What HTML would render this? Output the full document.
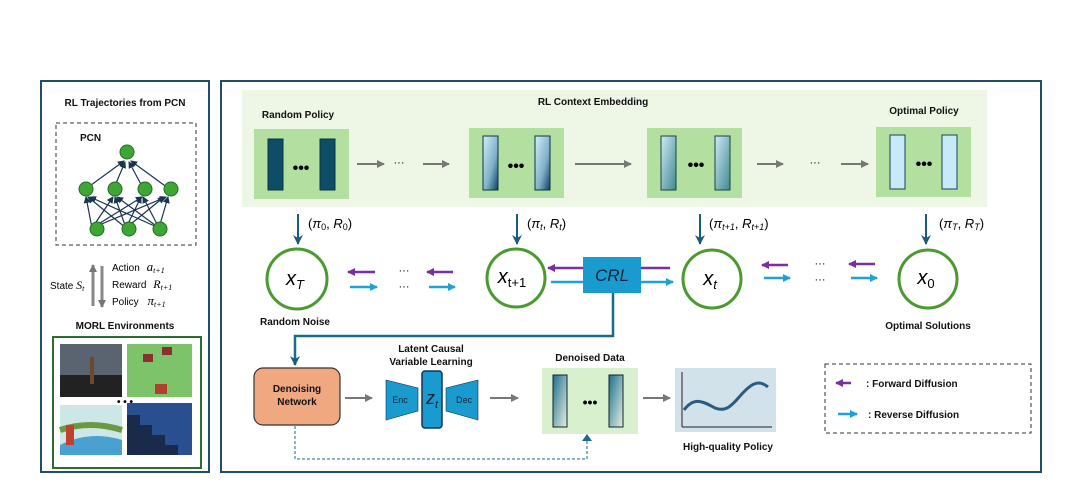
<!DOCTYPE html>
<html><head><meta charset="utf-8"><style>
html,body{margin:0;padding:0;background:#fff}
svg{display:block}
text{font-family:"Liberation Sans",sans-serif}
.b{font-weight:bold;font-size:10px;fill:#111}
.m{font-family:"Liberation Serif",serif;font-style:italic}
</style></head><body>
<svg width="1072" height="489" viewBox="0 0 1072 489" xmlns="http://www.w3.org/2000/svg">
<defs>
<marker id="ag" markerWidth="8" markerHeight="8" refX="7" refY="4" orient="auto" markerUnits="userSpaceOnUse"><path d="M0,0 L8,4 L0,8z" fill="#777"/></marker>
<marker id="ad" markerWidth="10" markerHeight="10" refX="9" refY="5" orient="auto" markerUnits="userSpaceOnUse"><path d="M0,0 L10,5 L0,10 L3,5z" fill="#1b5c7c"/></marker>
<marker id="ap" markerWidth="8" markerHeight="8" refX="7" refY="4" orient="auto" markerUnits="userSpaceOnUse"><path d="M0,0 L8,4 L0,8z" fill="#7a2fa0"/></marker>
<marker id="ab" markerWidth="8" markerHeight="8" refX="7" refY="4" orient="auto" markerUnits="userSpaceOnUse"><path d="M0,0 L8,4 L0,8z" fill="#1fa0d8"/></marker>
<marker id="an" markerWidth="7" markerHeight="7" refX="6" refY="3.5" orient="auto" markerUnits="userSpaceOnUse"><path d="M0,0 L7,3.5 L0,7z" fill="#1b3550"/></marker>
<linearGradient id="g1" x1="0" y1="0" x2="1" y2="1"><stop offset="0" stop-color="#d4eef8"/><stop offset="0.6" stop-color="#7fb0c8"/><stop offset="1" stop-color="#0d3f60"/></linearGradient>
<linearGradient id="g2" x1="0" y1="0" x2="1" y2="1"><stop offset="0" stop-color="#cfeaf4"/><stop offset="1" stop-color="#3f8a90"/></linearGradient>
<linearGradient id="g3" x1="0" y1="0" x2="1" y2="1"><stop offset="0" stop-color="#1d6f90"/><stop offset="1" stop-color="#e8f0e0"/></linearGradient>
</defs>

<!-- left panel -->
<rect x="41" y="81" width="168" height="391" fill="#fff" stroke="#1f4e6b" stroke-width="2"/>
<text x="125" y="106" class="b" text-anchor="middle">RL Trajectories from PCN</text>
<rect x="56" y="123" width="140" height="122" fill="none" stroke="#333" stroke-dasharray="4,3"/>
<text x="80" y="141" class="b">PCN</text>
<g stroke="#1b3550" stroke-width="1.2" marker-end="url(#an)">
<line x1="87" y1="188" x2="124" y2="161"/><line x1="114" y1="188" x2="125" y2="162"/><line x1="143" y1="188" x2="129" y2="162"/><line x1="168" y1="188" x2="131" y2="161"/>
<line x1="92" y1="228" x2="86" y2="197"/><line x1="92" y1="228" x2="113" y2="197"/><line x1="92" y1="228" x2="142" y2="197"/><line x1="92" y1="228" x2="166" y2="197"/>
<line x1="126" y1="228" x2="88" y2="197"/><line x1="126" y1="228" x2="115" y2="197"/><line x1="126" y1="228" x2="141" y2="197"/><line x1="126" y1="228" x2="164" y2="197"/>
<line x1="159" y1="228" x2="90" y2="197"/><line x1="159" y1="228" x2="117" y2="197"/><line x1="159" y1="228" x2="143" y2="197"/><line x1="159" y1="228" x2="168" y2="197"/>
</g>
<g fill="#3fa535" stroke="#1f6e20" stroke-width="1">
<circle cx="127" cy="152" r="7"/>
<circle cx="86" cy="189" r="7"/><circle cx="115" cy="189" r="7"/><circle cx="145" cy="189" r="7"/><circle cx="171" cy="189" r="7"/>
<circle cx="97" cy="229" r="7"/><circle cx="129" cy="229" r="7"/><circle cx="160" cy="229" r="7"/>
</g>
<line x1="93" y1="306" x2="93" y2="265" stroke="#888" stroke-width="3" marker-end="url(#ag)"/>
<line x1="102" y1="266" x2="102" y2="307" stroke="#888" stroke-width="3" marker-end="url(#ag)"/>
<text x="50" y="289" font-size="10">State <tspan class="m" font-size="12">S<tspan font-size="8" dy="2">t</tspan></tspan></text>
<text x="112" y="271" font-size="10">Action <tspan class="m" font-size="13" dx="4">a<tspan font-size="8" dy="2">t+1</tspan></tspan></text>
<text x="112" y="288" font-size="10">Reward <tspan class="m" font-size="12" dx="4">R<tspan font-size="8" dy="2">t+1</tspan></tspan></text>
<text x="112" y="305" font-size="10">Policy <tspan class="m" font-size="13" dx="6">π<tspan font-size="8" dy="2">t+1</tspan></tspan></text>
<text x="125" y="329" class="b" text-anchor="middle">MORL Environments</text>
<rect x="53" y="337" width="148" height="131" fill="#fff" stroke="#2e6b2e" stroke-width="2"/>
<rect x="60" y="344" width="62" height="53" fill="#5a6470"/><rect x="60" y="375" width="62" height="22" fill="#222"/><rect x="90" y="357" width="4" height="27" fill="#6b4a2e"/>
<rect x="127" y="344" width="65" height="53" fill="#7cc36a"/>
<rect x="143" y="354" width="10" height="8" fill="#8a3030"/><rect x="162" y="347" width="10" height="8" fill="#8a3030"/><rect x="155" y="384" width="12" height="10" fill="#b04030"/>
<text x="125" y="405" font-size="10" text-anchor="middle" font-weight="bold">• • •</text>
<rect x="60" y="405" width="62" height="50" fill="#cde6e6"/><path d="M60,445 Q90,430 122,440 L122,455 L60,455z" fill="#4aa0d0"/><path d="M60,430 Q90,420 122,430" stroke="#6a9a40" stroke-width="6" fill="none"/><rect x="66" y="425" width="8" height="20" fill="#c04030"/>
<rect x="127" y="403" width="65" height="52" fill="#2a4f90"/><path d="M127,415 L140,415 L140,425 L152,425 L152,435 L165,435 L165,445 L178,445 L178,455 L127,455z" fill="#1a2a4a"/>

<!-- main panel -->
<rect x="221" y="81" width="820" height="391" fill="#fff" stroke="#1f4e6b" stroke-width="2"/>
<rect x="242" y="90" width="745" height="117" fill="#eef6e6"/>
<text x="593" y="105" class="b" text-anchor="middle">RL Context Embedding</text>
<text x="298" y="118" class="b" text-anchor="middle">Random Policy</text>
<text x="924" y="114" class="b" text-anchor="middle">Optimal Policy</text>

<rect x="254" y="129" width="95" height="70" fill="#b3e0a0"/>
<rect x="268" y="139" width="15" height="51" fill="#0d4d66" stroke="#0a3346"/><rect x="320" y="139" width="15" height="51" fill="#0d4d66" stroke="#0a3346"/>
<text x="301" y="173" font-size="16" font-weight="bold" text-anchor="middle">•••</text>

<rect x="469" y="128" width="95" height="70" fill="#b3e0a0"/>
<rect x="483" y="136" width="15" height="54" fill="url(#g1)" stroke="#0a3346"/><rect x="535" y="136" width="15" height="54" fill="url(#g1)" stroke="#0a3346"/>
<text x="516" y="171" font-size="16" font-weight="bold" text-anchor="middle">•••</text>

<rect x="647" y="128" width="95" height="70" fill="#b3e0a0"/>
<rect x="661" y="136" width="15" height="54" fill="url(#g2)" stroke="#1a4050"/><rect x="715" y="136" width="15" height="54" fill="url(#g2)" stroke="#1a4050"/>
<text x="696" y="170" font-size="16" font-weight="bold" text-anchor="middle">•••</text>

<rect x="876" y="127" width="95" height="70" fill="#b3e0a0"/>
<rect x="890" y="135" width="15" height="54" fill="#c8eaf8" stroke="#1a4050"/><rect x="942" y="135" width="15" height="54" fill="#c8eaf8" stroke="#1a4050"/>
<text x="924" y="169" font-size="16" font-weight="bold" text-anchor="middle">•••</text>

<g stroke="#777" stroke-width="2" marker-end="url(#ag)">
<line x1="357" y1="164" x2="384" y2="164"/><line x1="423" y1="164" x2="449" y2="164"/>
<line x1="575" y1="164" x2="631" y2="164"/>
<line x1="757" y1="164" x2="783" y2="164"/><line x1="841" y1="164" x2="868" y2="164"/>
</g>
<text x="399" y="166" font-size="11" text-anchor="middle">···</text>
<text x="815" y="166" font-size="11" text-anchor="middle">···</text>

<g stroke="#1b5c7c" stroke-width="2" marker-end="url(#ad)">
<line x1="298" y1="214" x2="298" y2="244"/><line x1="517" y1="214" x2="517" y2="244"/>
<line x1="700" y1="214" x2="700" y2="244"/><line x1="926" y1="214" x2="926" y2="244"/>
</g>
<g font-family="Liberation Serif,serif" font-size="13">
<text x="308" y="228">(<tspan font-style="italic">π</tspan><tspan font-size="9" dy="2">0</tspan><tspan dy="-2">, </tspan><tspan font-style="italic">R</tspan><tspan font-size="9" dy="2">0</tspan><tspan dy="-2">)</tspan></text>
<text x="527" y="228">(<tspan font-style="italic">π</tspan><tspan font-size="9" dy="2" font-style="italic">t</tspan><tspan dy="-2">, </tspan><tspan font-style="italic">R</tspan><tspan font-size="9" dy="2" font-style="italic">t</tspan><tspan dy="-2">)</tspan></text>
<text x="709" y="228">(<tspan font-style="italic">π</tspan><tspan font-size="9" dy="2" font-style="italic">t+1</tspan><tspan dy="-2">, </tspan><tspan font-style="italic">R</tspan><tspan font-size="9" dy="2" font-style="italic">t+1</tspan><tspan dy="-2">)</tspan></text>
<text x="939" y="228">(<tspan font-style="italic">π</tspan><tspan font-size="9" dy="2" font-style="italic">T</tspan><tspan dy="-2">, </tspan><tspan font-style="italic">R</tspan><tspan font-size="9" dy="2" font-style="italic">T</tspan><tspan dy="-2">)</tspan></text>
</g>

<g fill="#fff" stroke="#4a9a30" stroke-width="3">
<circle cx="297" cy="279" r="30"/><circle cx="516" cy="278" r="29"/><circle cx="712" cy="279" r="29"/><circle cx="928" cy="279" r="29"/>
</g>
<g font-family="Liberation Serif,serif" font-style="italic" font-size="20" text-anchor="middle">
<text x="295" y="285">x<tspan font-size="13" dy="4">T</tspan></text>
<text x="512" y="283">x<tspan font-size="13" dy="4" font-style="normal">t+1</tspan></text>
<text x="710" y="285">x<tspan font-size="13" dy="4">t</tspan></text>
<text x="926" y="284">x<tspan font-size="13" dy="4" font-style="normal">0</tspan></text>
</g>

<g stroke-width="2.5">
<line x1="375" y1="272" x2="348" y2="272" stroke="#7a2fa0" marker-end="url(#ap)"/>
<line x1="350" y1="287" x2="377" y2="287" stroke="#1fa0d8" marker-end="url(#ab)"/>
<line x1="453" y1="272" x2="427" y2="272" stroke="#7a2fa0" marker-end="url(#ap)"/>
<line x1="429" y1="287" x2="455" y2="287" stroke="#1fa0d8" marker-end="url(#ab)"/>
<line x1="670" y1="268" x2="548" y2="268" stroke="#7a2fa0" marker-end="url(#ap)"/>
<line x1="551" y1="282" x2="673" y2="282" stroke="#1fa0d8" marker-end="url(#ab)"/>
<line x1="788" y1="265" x2="762" y2="265" stroke="#7a2fa0" marker-end="url(#ap)"/>
<line x1="764" y1="278" x2="790" y2="278" stroke="#1fa0d8" marker-end="url(#ab)"/>
<line x1="875" y1="264" x2="849" y2="264" stroke="#7a2fa0" marker-end="url(#ap)"/>
<line x1="851" y1="278" x2="877" y2="278" stroke="#1fa0d8" marker-end="url(#ab)"/>
</g>
<text x="404" y="274" font-size="11" text-anchor="middle">···</text><text x="404" y="290" font-size="11" text-anchor="middle">···</text>
<text x="820" y="267" font-size="11" text-anchor="middle">···</text><text x="820" y="283" font-size="11" text-anchor="middle">···</text>

<rect x="583" y="257" width="58" height="36" fill="#1a9bd0"/>
<text x="612" y="281" font-family="Liberation Serif,serif" font-style="italic" font-size="17" text-anchor="middle" fill="#123">CRL</text>
<path d="M613,293 L613,336 L295,336 L295,365" fill="none" stroke="#1b6a8c" stroke-width="2.5" marker-end="url(#ad)"/>

<text x="295" y="325" class="b" text-anchor="middle">Random Noise</text>
<text x="928" y="329" class="b" text-anchor="middle">Optimal Solutions</text>

<rect x="254" y="368" width="86" height="57" rx="9" fill="#f0a881" stroke="#333" stroke-width="1.2"/>
<text x="297" y="392" class="b" text-anchor="middle">Denoising</text>
<text x="297" y="405" class="b" text-anchor="middle">Network</text>
<line x1="345" y1="398" x2="372" y2="398" stroke="#777" stroke-width="2" marker-end="url(#ag)"/>

<text x="431" y="352" class="b" text-anchor="middle">Latent Causal</text>
<text x="431" y="365" class="b" text-anchor="middle">Variable Learning</text>
<path d="M386,380 L418,388 L418,411 L386,420z" fill="#1a9bd0" stroke="#135" stroke-width="0.6"/>
<path d="M478,380 L446,388 L446,411 L478,420z" fill="#1a9bd0" stroke="#135" stroke-width="0.6"/>
<rect x="422" y="371" width="20" height="57" rx="3" fill="#1a9bd0" stroke="#135" stroke-width="1.5"/>
<text x="400" y="403" font-size="9" text-anchor="middle" fill="#123">Enc</text>
<text x="464" y="403" font-size="9" text-anchor="middle" fill="#123">Dec</text>
<text x="432" y="404" font-family="Liberation Serif,serif" font-style="italic" font-size="18" text-anchor="middle" fill="#123">z<tspan font-size="11" dy="4">t</tspan></text>
<line x1="490" y1="398" x2="518" y2="398" stroke="#777" stroke-width="2" marker-end="url(#ag)"/>

<text x="590" y="361" class="b" text-anchor="middle">Denoised Data</text>
<rect x="542" y="368" width="96" height="66" fill="#d9f0cf"/>
<rect x="553" y="375" width="14" height="52" fill="url(#g3)" stroke="#123"/><rect x="609" y="375" width="14" height="52" fill="url(#g3)" stroke="#123"/>
<text x="590" y="407" font-size="14" font-weight="bold" text-anchor="middle">•••</text>
<line x1="643" y1="398" x2="670" y2="398" stroke="#777" stroke-width="2" marker-end="url(#ag)"/>

<rect x="675" y="368" width="101" height="64" fill="#d2e2ea"/>
<path d="M682,427 L682,372 M682,427 L772,427" stroke="#222" stroke-width="1"/>
<path d="M684,410 C695,395 705,403 715,408 C730,414 736,398 748,388 C756,381 762,382 768,387" fill="none" stroke="#2a5c80" stroke-width="3"/>
<text x="728" y="450" class="b" text-anchor="middle">High-quality Policy</text>

<path d="M295,426 L295,459 L587,459 L587,436" fill="none" stroke="#1b6a8c" stroke-width="1" stroke-dasharray="3,2"/>
<path d="M582,441 L587,434 L592,441z" fill="#1b6a8c"/>

<rect x="825" y="364" width="206" height="69" fill="none" stroke="#333" stroke-dasharray="4,3"/>
<line x1="851" y1="383" x2="836" y2="383" stroke="#7a2fa0" stroke-width="2.5" marker-end="url(#ap)"/>
<line x1="838" y1="414" x2="857" y2="414" stroke="#1fa0d8" stroke-width="2.5" marker-end="url(#ab)"/>
<text x="866" y="387" class="b">: Forward Diffusion</text>
<text x="868" y="418" class="b">: Reverse Diffusion</text>
</svg>
</body></html>
